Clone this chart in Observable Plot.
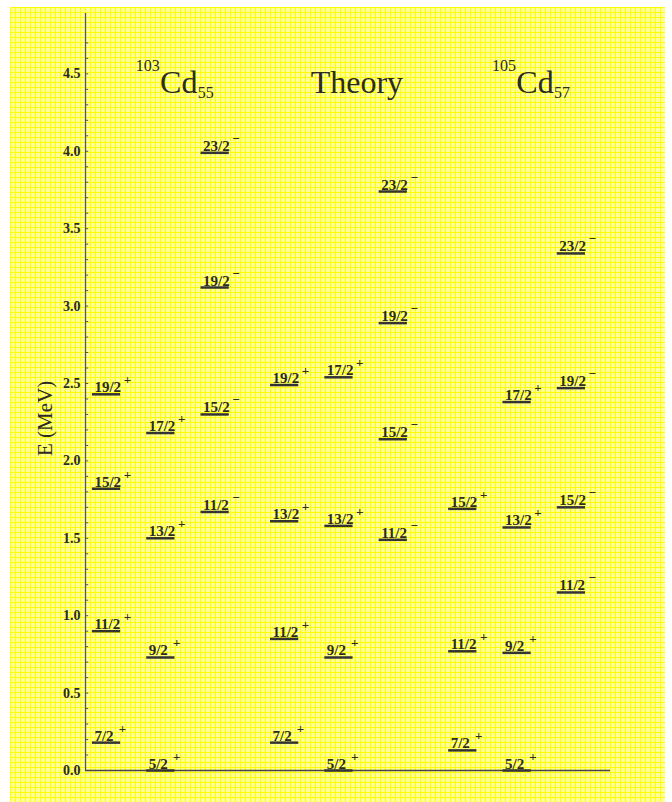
<!DOCTYPE html>
<html><head><meta charset="utf-8">
<script src="https://cdn.jsdelivr.net/npm/d3@7"></script>
<script src="https://cdn.jsdelivr.net/npm/@observablehq/plot@0.6"></script>
<style>
html,body{margin:0;padding:0;background:#fff;}
#bg{position:absolute;left:10px;top:7px;width:655px;height:795px;background-color:#ffff9a;
background-image:linear-gradient(#ffff00 1px,transparent 1px),linear-gradient(90deg,#ffff00 1px,transparent 1px);
background-size:5px 5px;}
</style></head><body><div id="bg"></div><script>
// Groups (nuclei / theory)
const groupNames = ["103Cd55", "Theory", "105Cd57"];
const titleMain = ["Cd", "Theory", "Cd"];
const titleMass = ["103", "", "105"];
const titleSub = ["55", "", "57"];

// Levels
const levelGroup  = [0,0,0,0, 0,0,0,0, 0,0,0,0,  1,1,1,1, 1,1,1,1, 1,1,1,1,  2,2,2, 2,2,2,2, 2,2,2,2];
const levelColumn = [0,0,0,0, 1,1,1,1, 2,2,2,2,  0,0,0,0, 1,1,1,1, 2,2,2,2,  0,0,0, 1,1,1,1, 2,2,2,2];
const levelSpin = [
  "7/2","11/2","15/2","19/2", "5/2","9/2","13/2","17/2", "11/2","15/2","19/2","23/2",
  "7/2","11/2","13/2","19/2", "5/2","9/2","13/2","17/2", "11/2","15/2","19/2","23/2",
  "7/2","11/2","15/2", "5/2","9/2","13/2","17/2", "11/2","15/2","19/2","23/2"];
const levelParity = [
  "+","+","+","+", "+","+","+","+", "−","−","−","−",
  "+","+","+","+", "+","+","+","+", "−","−","−","−",
  "+","+","+", "+","+","+","+", "−","−","−","−"];
const levelEnergy = [
  0.18,0.90,1.82,2.43, 0.00,0.73,1.50,2.18, 1.67,2.30,3.12,3.99,
  0.18,0.85,1.61,2.49, 0.00,0.73,1.58,2.54, 1.49,2.14,2.89,3.74,
  0.13,0.77,1.69, 0.00,0.76,1.57,2.38, 1.15,1.70,2.47,3.34];

// Axis ticks
const majorTicks = [0, 0.5, 1.0, 1.5, 2.0, 2.5, 3.0, 3.5, 4.0, 4.5];
const yMax = 4.89;

const groupStep = 3.28;
const xPos = (g, c) => g * groupStep + c;
const halfW = 0.26;
const xDomain = [-0.387, 9.28];

const levels = levelEnergy.map((E, i) => ({
  spin: levelSpin[i], parity: levelParity[i], E,
  v: xPos(levelGroup[i], levelColumn[i])
}));
const titles = groupNames.map((n, g) => ({
  name: n, v: xPos(g, 1) + 0.33, main: titleMain[g], mass: titleMass[g], sub: titleSub[g]
}));
const minorTicks = d3.range(0, 48).map(i => i / 10);

const serif = "'Liberation Serif', 'DejaVu Serif', serif";
const ink = "#2b2b20";

const chart = Plot.plot({
  width: 655, height: 795,
  marginLeft: 75, marginRight: 55, marginTop: 6, marginBottom: 32,
  style: {background: "transparent", fontFamily: serif, color: ink},
  x: {domain: xDomain, axis: null},
  y: {domain: [0, yMax]},
  marks: [
    Plot.axisY({ticks: majorTicks, tickSize: 0, tickPadding: 5, tickFormat: d3.format(".1f"),
      fontSize: 14, fontWeight: "bold", label: null, fill: ink}),
    Plot.ruleY(minorTicks, {x1: xDomain[0], x2: xDomain[0] + 0.06, stroke: "#555", strokeWidth: 1}),
    Plot.ruleX([xDomain[0]], {y1: 0, y2: yMax, stroke: "#555", strokeWidth: 1.3}),
    Plot.ruleY([0], {x1: xDomain[0], x2: xDomain[1], stroke: "#444", strokeWidth: 1.5}),
    Plot.ruleY(levels, {y: "E", x1: d => d.v - halfW, x2: d => d.v + halfW, stroke: "#333", strokeWidth: 2.5}),
    Plot.text(levels, {x: d => d.v - halfW, y: "E", text: "spin", textAnchor: "start", lineAnchor: "bottom",
      dx: 2, dy: -2, fontSize: 15, fontWeight: "bold", fill: ink}),
    Plot.text(levels, {filter: d => d.spin.length === 3, x: d => d.v + halfW, y: "E", text: "parity",
      textAnchor: "start", lineAnchor: "bottom", dx: -2, dy: -10, fontSize: 13, fontWeight: "bold", fill: ink}),
    Plot.text(levels, {filter: d => d.spin.length > 3, x: d => d.v + halfW, y: "E", text: "parity",
      textAnchor: "start", lineAnchor: "bottom", dx: 3, dy: -10, fontSize: 13, fontWeight: "bold", fill: ink}),
    Plot.text(titles, {x: "v", frameAnchor: "top", text: "main", lineAnchor: "bottom", dy: 79, fontSize: 32, fill: ink}),
    Plot.text(titles, {x: "v", frameAnchor: "top", text: "mass", textAnchor: "end", lineAnchor: "bottom",
      dx: -19, dy: 57, fontSize: 16, fill: ink}),
    Plot.text(titles, {x: "v", frameAnchor: "top", text: "sub", textAnchor: "start", lineAnchor: "bottom",
      dx: 19, dy: 84, fontSize: 16, fill: ink}),
    Plot.text(["E (MeV)"], {frameAnchor: "left", dx: -40, dy: 64, rotate: -90, fontSize: 21, fill: ink})
  ]
});
chart.style.position = "absolute";
chart.style.left = "10px";
chart.style.top = "7px";
document.body.appendChild(chart);
</script></body></html>
